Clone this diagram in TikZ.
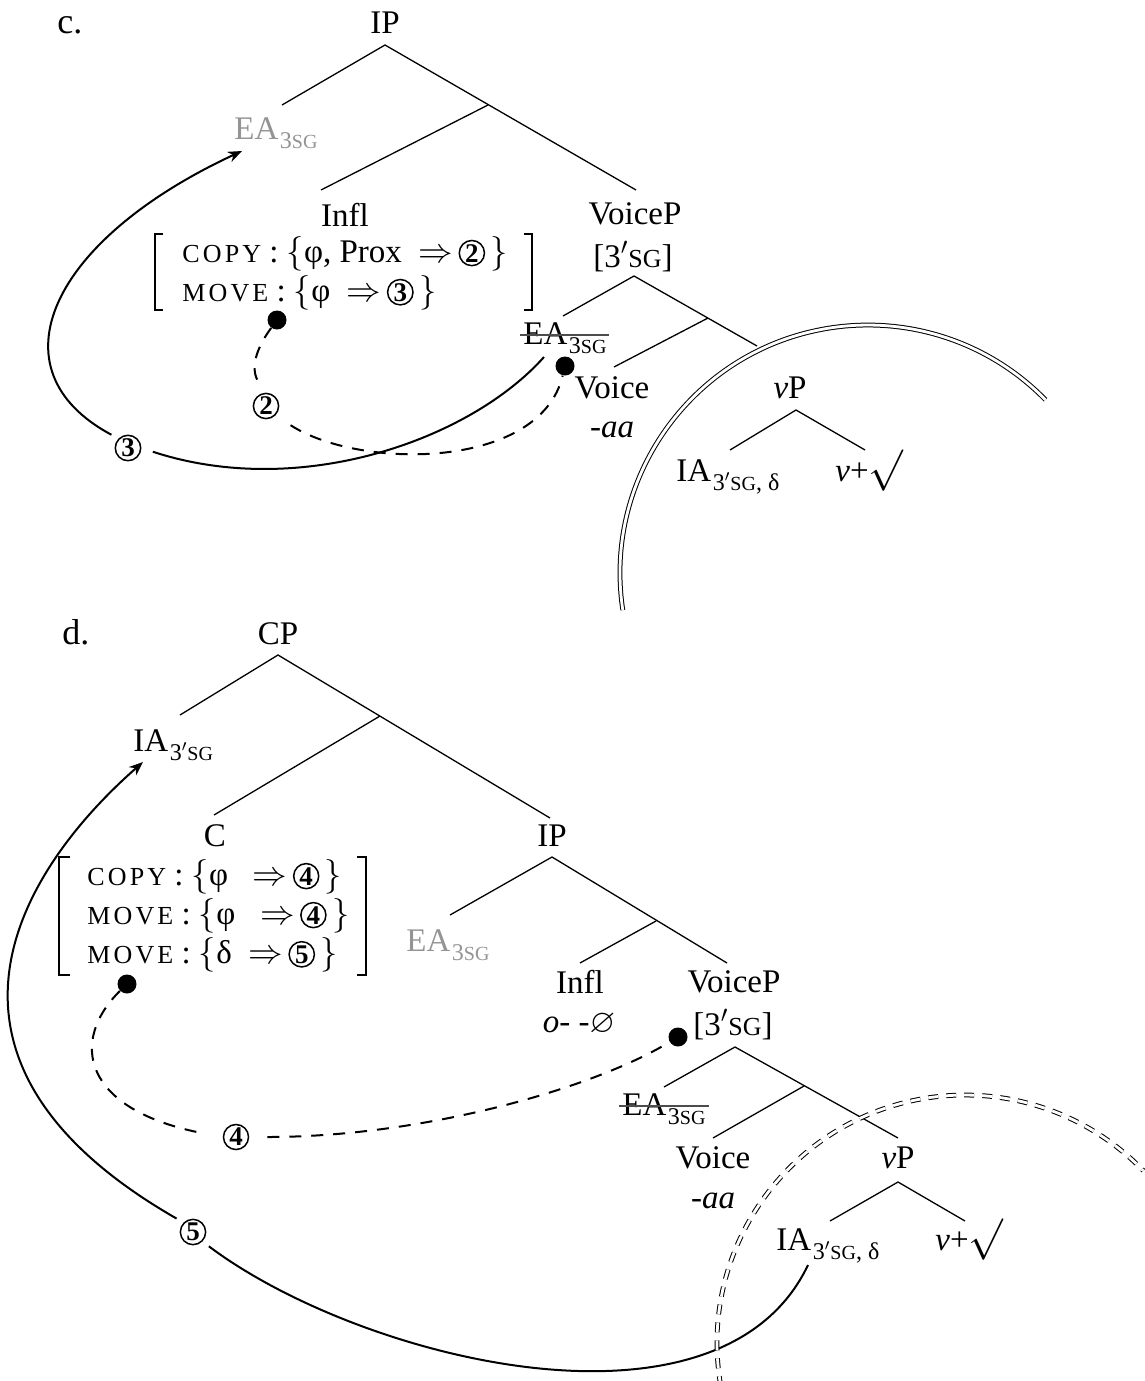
\documentclass[tikz,border=0pt]{standalone}
\usepackage{amssymb}
\usepackage{fontspec}
\setmainfont{Liberation Serif}
\usetikzlibrary{arrows.meta,calc}
\definecolor{gtext}{gray}{0.58}
\newcommand\smc[2][13]{{\fontsize{#1}{#1}\selectfont #2}}
\newcommand\boxw[1]{{\fontsize{13}{13}\selectfont\addfontfeature{LetterSpace=12}#1}}
\newcommand\sbs[1]{\kern0.8pt\raisebox{-0.6ex}{\fontsize{12}{12}\selectfont #1}}
\newcommand\cn[1]{\tikz[baseline=(cnx.base)]\node[cnum](cnx){#1};}
\newcommand\rt{{\fontsize{20}{20}\selectfont$\surd$}}
\begin{document}
\begin{tikzpicture}[x=0.5pt,y=-0.5pt,
  lbl/.style={font=\fontsize{16.5}{19.5}\selectfont, inner sep=0pt},
  gl/.style={lbl, text=gtext},
  tl/.style={line width=0.65pt},
  cnum/.style={circle,draw,line width=0.75pt,inner sep=0.5pt,font=\fontsize{13.5}{13.5}\selectfont\bfseries},
  dot/.style={circle,fill,inner sep=0pt,minimum size=9.5pt},
  mv/.style={line width=1pt},
  arr/.style={mv,-{Stealth[length=7pt,width=5.5pt]}},
  dsh/.style={line width=1pt,dash pattern=on 6pt off 5pt},
  brk/.style={line width=0.9pt},
  strk/.style={line width=0.8pt, black!70},
  phase/.style={double, double distance=1.4pt, line width=0.5pt},
  phased/.style={phase, dash pattern=on 5pt off 4pt}]
\useasboundingbox (0,0) rectangle (1145,1381);

% ===================== (c) =====================
\node[lbl,font=\fontsize{18}{18}\selectfont,anchor=base west] (clab) at (57,33) {c.};
\node[lbl,anchor=base] (cIP) at (385,33) {IP};
\node[gl,anchor=base west] (cEA) at (234,139) {EA\sbs{3\smc[10]{SG}}};
\node[lbl,anchor=base] (cInfl) at (345,226) {Infl};
\node[lbl,anchor=base] (cVP) at (635,224) {VoiceP};
\node[lbl,anchor=base] (cVPf) at (633,267) {[3$'$\smc{SG}]};
\node[lbl,anchor=base west] (cbox) at (182,262) {\begin{tabular}[t]{@{}l@{}}
\boxw{COPY} : $\{$φ, Prox\ \ $\Rightarrow$\,\cn{2}\,$\}$\\
\boxw{MOVE} : $\{$φ\ \ $\Rightarrow$\,\cn{3}\,$\}$
\end{tabular}};
\node[lbl,anchor=base west] (cEAx) at (523,344) {EA\sbs{3\smc[10]{SG}}};
\node[lbl,anchor=base] (cVoice) at (612,398) {Voice};
\node[lbl,anchor=base] (caa) at (612,437) {\textit{-aa}};
\node[lbl,anchor=base] (cvP) at (790,398) {\textit{v}P};
\node[lbl,anchor=base west] (cIA) at (676,481) {IA\sbs{3$'$\smc[10]{SG}, δ}};
\node[lbl,anchor=base west] (cvr) at (835,481) {\textit{v}+\rt};

% brackets
\draw[brk] (163,234) -- (155,234) -- (155,310) -- (163,310);
\draw[brk] (524,234) -- (532,234) -- (532,310) -- (524,310);

% tree lines
\coordinate (cIPb) at (385,45);
\coordinate (cEAt) at (282,105);
\coordinate (cVPt) at (636,190);
\coordinate (cIb) at (488,105);
\coordinate (cInflt) at (321,190);
\coordinate (cVPb) at (634,276);
\coordinate (cEAxt) at (563,316);
\coordinate (cvPt) at (757,346);
\coordinate (cVb) at (708,318);
\coordinate (cVt) at (614,367);
\coordinate (cvPb) at (796,410);
\coordinate (cIAt) at (730,450);
\coordinate (cvrt) at (865,450);
\draw[tl] (cEAt) -- (cIPb) -- (cVPt);
\draw[tl] (cIb) -- (cInflt);
\draw[tl] (cEAxt) -- (cVPb) -- (cvPt);
\draw[tl] (cVb) -- (cVt);
\draw[tl] (cIAt) -- (cvPb) -- (cvrt);

% strike
\draw[strk] ($(cEAx.base west)+(-3,-9)$) -- ($(cEAx.base west)+(86,-9)$);

% dots and labels
\node[dot] (cd1) at (277,320) {};
\node[dot] (cd2) at (565,366) {};
\node[cnum] (n2) at (266,406) {2};
\node[cnum] (n3) at (128,448) {3};
\coordinate (cEAtail) at ($(cEAx.base west)+(21,13)$);
\coordinate (cEAtip) at ($(cEA.base west)+(8,12)$);

\draw[dsh,shorten >=6pt] (cd1) .. controls (255,350) and (250,370) .. (n2.north);
\draw[dsh,shorten <=9pt] (n2.south east) .. controls (360,470) and (540,470) .. (cd2);
\draw[mv,shorten <=6pt] (n3.east) .. controls (300,500) and (470,440) .. (cEAtail);
\draw[arr,shorten <=4pt] (n3.north west) .. controls (-10,370) and (50,240) .. (cEAtip);

\draw[phase] (622.8,610.1) arc[start angle=171.4, end angle=315.7, radius=248];

% ===================== (d) =====================
\node[lbl,font=\fontsize{18}{18}\selectfont,anchor=base west] (dlab) at (62,644) {d.};
\node[lbl,anchor=base] (dCP) at (278,644) {CP};
\node[lbl,anchor=base west] (dIA1) at (133,751) {IA\sbs{3$'$\smc[10]{SG}}};
\node[lbl,anchor=base] (dC) at (215,846) {C};
\node[lbl,anchor=base] (dIP) at (552,846) {IP};
\node[lbl,anchor=base west] (dbox) at (87,885) {\begin{tabular}[t]{@{}l@{}}
\boxw{COPY} : $\{$φ\ \ \ $\Rightarrow$\,\cn{4}\,$\}$\\
\boxw{MOVE} : $\{$φ\ \ \ $\Rightarrow$\,\cn{4}\,$\}$\\
\boxw{MOVE} : $\{$δ\ \ $\Rightarrow$\,\cn{5}\,$\}$
\end{tabular}};
\node[gl,anchor=base west] (dEA) at (406,951) {EA\sbs{3\smc[10]{SG}}};
\node[lbl,anchor=base] (dInfl) at (580,993) {Infl};
\node[lbl,anchor=base] (dInflm) at (579,1032) {\textit{o- -}$\varnothing$};
\node[lbl,anchor=base] (dVP) at (734,992) {VoiceP};
\node[lbl,anchor=base] (dVPf) at (733,1035) {[3$'$\smc{SG}]};
\node[lbl,anchor=base west] (dEAx) at (622,1115) {EA\sbs{3\smc[10]{SG}}};
\node[lbl,anchor=base] (dVoice) at (713,1168) {Voice};
\node[lbl,anchor=base] (daa) at (713,1208) {\textit{-aa}};
\node[lbl,anchor=base] (dvP) at (898,1168) {\textit{v}P};
\node[lbl,anchor=base west] (dIA) at (776,1250) {IA\sbs{3$'$\smc[10]{SG}, δ}};
\node[lbl,anchor=base west] (dvr) at (935,1250) {\textit{v}+\rt};

% brackets
\draw[brk] (70,857) -- (59,857) -- (59,975) -- (70,975);
\draw[brk] (357,857) -- (366,857) -- (366,975) -- (357,975);

% tree lines
\coordinate (dCPb) at (278,655);
\coordinate (dIA1t) at (180,715);
\coordinate (dIPt) at (550,818);
\coordinate (dCb) at (380,716);
\coordinate (dCt) at (214,815);
\coordinate (dIPb) at (552,857);
\coordinate (dEAt) at (450,915);
\coordinate (dVPt) at (727,963);
\coordinate (dIb) at (656,921);
\coordinate (dInflt) at (580,963);
\coordinate (dVPb) at (735,1047);
\coordinate (dEAxt) at (664,1087);
\coordinate (dvPt) at (898,1138);
\coordinate (dVb) at (804,1086);
\coordinate (dVt) at (713,1138);
\coordinate (dvPb) at (898,1182);
\coordinate (dIAt) at (830,1221);
\coordinate (dvrt) at (965,1221);
\draw[tl] (dIA1t) -- (dCPb) -- (dIPt);
\draw[tl] (dCb) -- (dCt);
\draw[tl] (dEAt) -- (dIPb) -- (dVPt);
\draw[tl] (dIb) -- (dInflt);
\draw[tl] (dEAxt) -- (dVPb) -- (dvPt);
\draw[tl] (dVb) -- (dVt);
\draw[tl] (dIAt) -- (dvPb) -- (dvrt);

% strike
\draw[strk] ($(dEAx.base west)+(-3,-9)$) -- ($(dEAx.base west)+(87,-9)$);

% dots and labels
\node[dot] (dd1) at (127,984) {};
\node[dot] (dd2) at (678,1037) {};
\node[cnum] (n4) at (236,1137) {4};
\node[cnum] (n5) at (193,1232) {5};
\coordinate (dIAtail) at ($(dIA.base west)+(32,15)$);
\coordinate (dIA1tip) at ($(dIA1.base west)+(10,11)$);

\draw[dsh,shorten >=9pt] (dd1) .. controls (70,1040) and (80,1110) .. (n4.west);
\draw[dsh,shorten <=9pt] (n4.east) .. controls (420,1137) and (590,1090) .. (dd2);
\draw[mv,shorten <=4pt] (n5.south east) .. controls (360,1360) and (720,1450) .. (dIAtail);
\draw[arr,shorten <=4pt] (n5.north west) .. controls (-100,1060) and (20,870) .. (dIA1tip);

\draw[phased] (720.8,1386.1) arc[start angle=170, end angle=316, radius=248];
\end{tikzpicture}
\end{document}
